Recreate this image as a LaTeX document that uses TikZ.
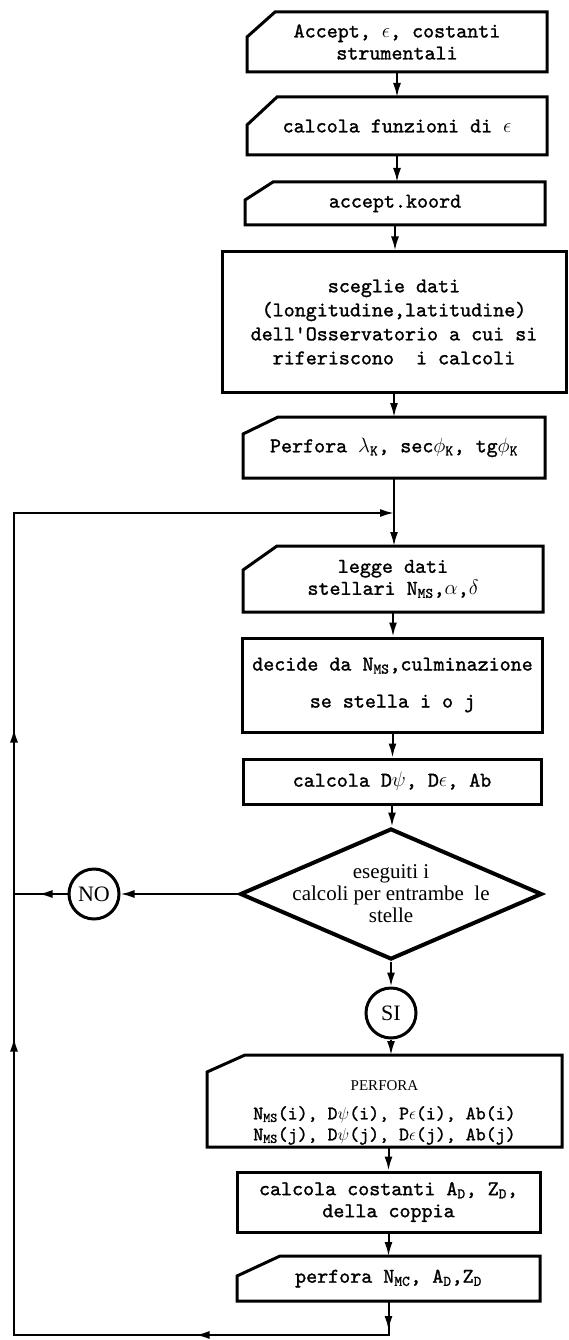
\documentclass[tikz,border=0pt]{standalone}
\usepackage{amsmath, amssymb}
\usepackage{fontspec}
\setmainfont{Liberation Serif}
\setmonofont{lmmono10-regular.otf}[FakeBold=1.3]
\usepackage{tikz}
\usetikzlibrary{arrows.meta, shapes.geometric, decorations.markings}

\tikzset{
  block/.style={draw, line width=3pt, rectangle, inner sep=2pt, align=center,
    font=\ttfamily\fontsize{21}{22}\selectfont},
  card/.style 2 args={block, draw=none, outer sep=0pt, append after command={
    \pgfextra{\draw[line width=3pt]
      ([yshift=-#2]\tikzlastnode.north west) -- ([xshift=#1]\tikzlastnode.north west)
      -- (\tikzlastnode.north east) -- (\tikzlastnode.south east)
      -- (\tikzlastnode.south west) -- cycle;}}},
  test/.style={draw, line width=4pt, diamond, inner sep=0pt},
  conn/.style={draw, line width=3pt, circle, minimum size=50pt, inner sep=0pt,
    font=\fontsize{22}{22}\selectfont},
  line/.style={line width=2pt},
  flow/.style={line, ->},
}

\begin{document}
\begin{tikzpicture}[x=1pt, y=-1pt, >={Latex[length=14pt,width=8pt]}]
  \useasboundingbox (0,0) rectangle (568,1340);
  % set-up blocks
  \node[card={28pt}{25pt}, minimum width=300pt, minimum height=60pt]
    (accept) at (397,42) {Accept, $\epsilon$, costanti\\strumentali};
  \node[card={30pt}{28pt}, minimum width=300pt, minimum height=58pt]
    (funz) at (397,126) {calcola funzioni di $\epsilon$};
  \node[card={28pt}{18pt}, minimum width=300pt, minimum height=43pt]
    (koord) at (395,203.5) {accept.koord};
  \node[block, minimum width=344pt, minimum height=140pt,
    font=\ttfamily\fontsize{21}{24}\selectfont]
    (osserv) at (394,322) {sceglie dati\\(longitudine,latitudine)\\dell'Osservatorio a cui si\\riferiscono~~i calcoli};
  \node[card={35pt}{17pt}, minimum width=302pt, minimum height=61pt]
    (perfk) at (394,447.5) {Perfora $\lambda$\textsubscript{K}, sec$\phi$\textsubscript{K}, tg$\phi$\textsubscript{K}};
  % loop over the stars
  \node[card={34pt}{24pt}, minimum width=300pt, minimum height=66pt]
    (legge) at (393,579) {legge dati\\stellari N\textsubscript{MS},$\alpha$,$\delta$};
  \node[block, minimum width=300pt, minimum height=94pt,
    font=\ttfamily\fontsize{21}{37}\selectfont]
    (decide) at (392.5,685) {decide da N\textsubscript{MS},culminazione\\se stella i o j};
  \node[block, minimum width=298pt, minimum height=45pt]
    (calc) at (392,781.5) {calcola D$\psi$, D$\epsilon$, Ab};
  \node[test, minimum width=302pt, minimum height=131pt,
    label={[align=center, font=\fontsize{21}{22}\selectfont]center:eseguiti i\\calcoli per entrambe~~le\\stelle}]
    (esegu) at (391,894) {};
  \node[conn] (no) at (94,894) {NO};
  \node[conn] (si) at (391,1013) {SI};
  \node[card={38pt}{17pt}, minimum width=355pt, minimum height=92pt,
    font=\ttfamily\fontsize{19}{21}\selectfont]
    (perfij) at (384.5,1101) {\rule{0pt}{33pt}{\rmfamily\fontsize{15}{15}\selectfont PERFORA}\\[8pt]
      N\textsubscript{MS}(i), D$\psi$(i), P$\epsilon$(i), Ab(i)\\
      N\textsubscript{MS}(j), D$\psi$(j), D$\epsilon$(j), Ab(j)};
  \node[block, minimum width=303pt, minimum height=60pt]
    (costanti) at (388.5,1202) {calcola costanti A\textsubscript{D}, Z\textsubscript{D},\\della coppia};
  \node[card={43pt}{20pt}, minimum width=303pt, minimum height=45pt]
    (perfmc) at (388.5,1278.5) {perfora N\textsubscript{MC}, A\textsubscript{D},Z\textsubscript{D}};

  % connectors
  \coordinate (join) at (perfk.south |- 0,513);
  \draw[flow] (accept.south) -- (accept.south |- funz.north);
  \draw[flow] (funz.south) -- (funz.south |- koord.north);
  \draw[flow] (koord.south) -- (koord.south |- osserv.north);
  \draw[flow] (osserv.south) -- (osserv.south |- perfk.north);
  \draw[line] (perfk.south) -- (join);
  \draw[flow] (join) -- (join |- legge.north);
  \draw[flow] (legge.south) -- (legge.south |- decide.north);
  \draw[flow] (decide.south) -- (decide.south |- calc.north);
  \draw[flow] (calc.south) -- (calc.south |- esegu.north);
  \draw[flow] (esegu.west) -- (no.east);
  \draw[flow] (esegu.south) -- (si.north);
  \draw[flow] (si.south) -- (si.south |- perfij.north);
  \draw[flow] (costanti.north |- perfij.south) -- (costanti.north);
  \draw[flow] (costanti.south) -- (perfmc.north);

  % return path
  \coordinate (lbr) at (perfmc.south |- 0,1335);
  \coordinate (lbl) at (14,1335);
  \coordinate (lml) at (lbl |- no.west);
  \coordinate (ltl) at (lbl |- join);
  \draw[line, postaction={decorate}, decoration={markings,
      mark=at position 29pt with {\arrow{>}},
      mark=at position 227pt with {\arrow{>}},
      mark=at position 706pt with {\arrow{>}},
      mark=at position 1015pt with {\arrow{>}}}, ->]
    (perfmc.south) -- (lbr) -- (lbl) -- (ltl) -- (join);
  \draw[line, postaction={decorate}, decoration={markings,
      mark=at position 29pt with {\arrow{>}}}]
    (no.west) -- (lml);
\end{tikzpicture}
\end{document}
